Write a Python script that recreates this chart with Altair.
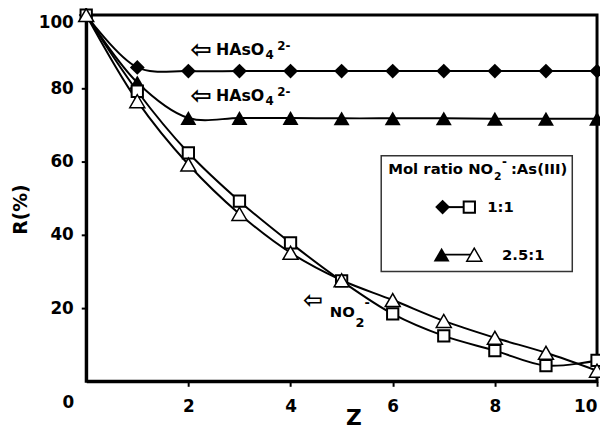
import altair as alt
import pandas as pd

# ---- data ----
z = [0, 1, 2, 3, 4, 5, 6, 7, 8, 9, 10]
hasO4_11 = [100, 85.7, 84.7, 84.7, 84.7, 84.7, 84.7, 84.7, 84.7, 84.7, 84.7]
hasO4_25 = [100, 81.6, 71.9, 71.9, 71.9, 71.8, 71.8, 71.8, 71.7, 71.7, 71.7]
no2_11 = [100, 79.2, 62.4, 49.2, 37.8, 27.4, 18.4, 12.4, 8.4, 4.3, 5.7]
no2_25 = [100, 76.5, 59.2, 45.7, 35.1, 27.6, 22.2, 16.5, 11.9, 7.8, 2.9]

x_ticks = [2, 4, 6, 8, 10]
y_ticks = [20, 40, 60, 80, 100]

df = pd.DataFrame({"Z": z, "h11": hasO4_11, "h25": hasO4_25,
                   "n11": no2_11, "n25": no2_25})
one = pd.DataFrame({"k": [0]})

F = "DejaVu Sans"
W, H = 516, 370

xenc = alt.X("Z:Q", scale=alt.Scale(domain=[0, 10], nice=False),
             axis=alt.Axis(values=x_ticks, title="Z", titleX=270, titleY=37,
                           titleBaseline="middle", titleFontSize=22, labelPadding=12))


def yenc(field):
    return alt.Y(f"{field}:Q", scale=alt.Scale(domain=[0, 100], nice=False),
                 axis=alt.Axis(values=y_ticks, title="R(%)", titleX=-66, titleY=196,
                               titleAlign="center", titleBaseline="middle",
                               titleAngle=-90, titleFontSize=19, labelFlush=True))


base = alt.Chart(df)
layers = []
for f in ["h11", "h25", "n11", "n25"]:
    layers.append(base.mark_line(interpolate="catmull-rom", color="black", strokeWidth=2)
                  .encode(x=xenc, y=yenc(f)))

layers.append(base.mark_point(shape="diamond", filled=True, color="black", size=225, opacity=1)
              .encode(x=xenc, y=yenc("h11")))
layers.append(base.mark_point(shape="triangle-up", filled=True, color="black", size=260, opacity=1)
              .encode(x=xenc, y=yenc("h25")))
layers.append(base.mark_point(shape="square", filled=True, fill="white", stroke="black",
                              strokeWidth=2, size=130, opacity=1)
              .encode(x=xenc, y=yenc("n11")))
layers.append(base.mark_point(shape="triangle-up", filled=True, fill="white", stroke="black",
                              strokeWidth=1.5, size=230, opacity=1)
              .encode(x=xenc, y=yenc("n25")))


def txt(s, x, y, size, align="left", baseline="alphabetic"):
    return alt.Chart(one).mark_text(text=s, fontSize=size, font=F, fontWeight="bold",
                                    align=align, baseline=baseline, color="black").encode(
        x=alt.value(x), y=alt.value(y))


# annotations
for dy in [0, 47]:
    layers.append(txt("⇦", 116, 35 + dy, 26, align="center", baseline="middle"))
    layers.append(txt("HAsO", 131, 40 + dy, 16))
    layers.append(txt("4", 181, 44 + dy, 12))
    layers.append(txt("2-", 193, 35 + dy, 12))
layers.append(txt("⇦", 229, 289, 24, align="center", baseline="middle"))
layers.append(txt("NO", 246, 305, 15))
layers.append(txt("2", 272, 315, 13))
layers.append(txt("-", 281, 295, 13))

# corner zero label
layers.append(txt("0", -18, 392, 17, align="center", baseline="middle"))

# legend
layers.append(alt.Chart(one).mark_rect(fill="white", stroke="#333333", strokeWidth=1.5)
              .encode(x=alt.value(298), x2=alt.value(491), y=alt.value(142), y2=alt.value(259)))
layers.append(txt("Mol ratio NO", 305, 161, 15))
layers.append(txt("2", 412, 167, 11))
layers.append(txt("-", 420, 152, 12))
layers.append(txt(":As(III)", 429, 161, 15))

layers.append(alt.Chart(one).mark_rule(color="black", strokeWidth=2)
              .encode(x=alt.value(360), x2=alt.value(387), y=alt.value(194)))
layers.append(alt.Chart(one).mark_point(shape="diamond", filled=True, color="black", size=225, opacity=1)
              .encode(x=alt.value(360), y=alt.value(194)))
layers.append(alt.Chart(one).mark_point(shape="square", filled=True, fill="white", stroke="black",
                                        strokeWidth=2, size=130, opacity=1)
              .encode(x=alt.value(387), y=alt.value(194)))
layers.append(txt("1:1", 405, 194, 15, baseline="middle"))

layers.append(alt.Chart(one).mark_rule(color="black", strokeWidth=2)
              .encode(x=alt.value(359), x2=alt.value(392), y=alt.value(242)))
layers.append(alt.Chart(one).mark_point(shape="triangle-up", filled=True, color="black", size=260, opacity=1)
              .encode(x=alt.value(359), y=alt.value(242)))
layers.append(alt.Chart(one).mark_point(shape="triangle-up", filled=True, fill="white", stroke="black",
                                        strokeWidth=1.5, size=230, opacity=1)
              .encode(x=alt.value(392), y=alt.value(242)))
layers.append(txt("2.5:1", 420, 242, 15, baseline="middle"))

chart = alt.layer(*layers).properties(
    width=W, height=H,
    autosize=alt.AutoSizeParams(type="none"),
    padding={"left": 79, "top": 5, "right": 3, "bottom": 46},
).configure_view(
    stroke="black", strokeWidth=3
).configure_axis(
    grid=False, domainColor="black", domainWidth=3, tickColor="black", tickWidth=2,
    tickSize=5, labelFont=F, labelFontWeight="bold", labelFontSize=17, labelColor="black",
    labelPadding=8, titleFont=F, titleFontWeight="bold", titleColor="black",
)

chart.save("out.html", embed_options={"renderer": "svg", "actions": False})
